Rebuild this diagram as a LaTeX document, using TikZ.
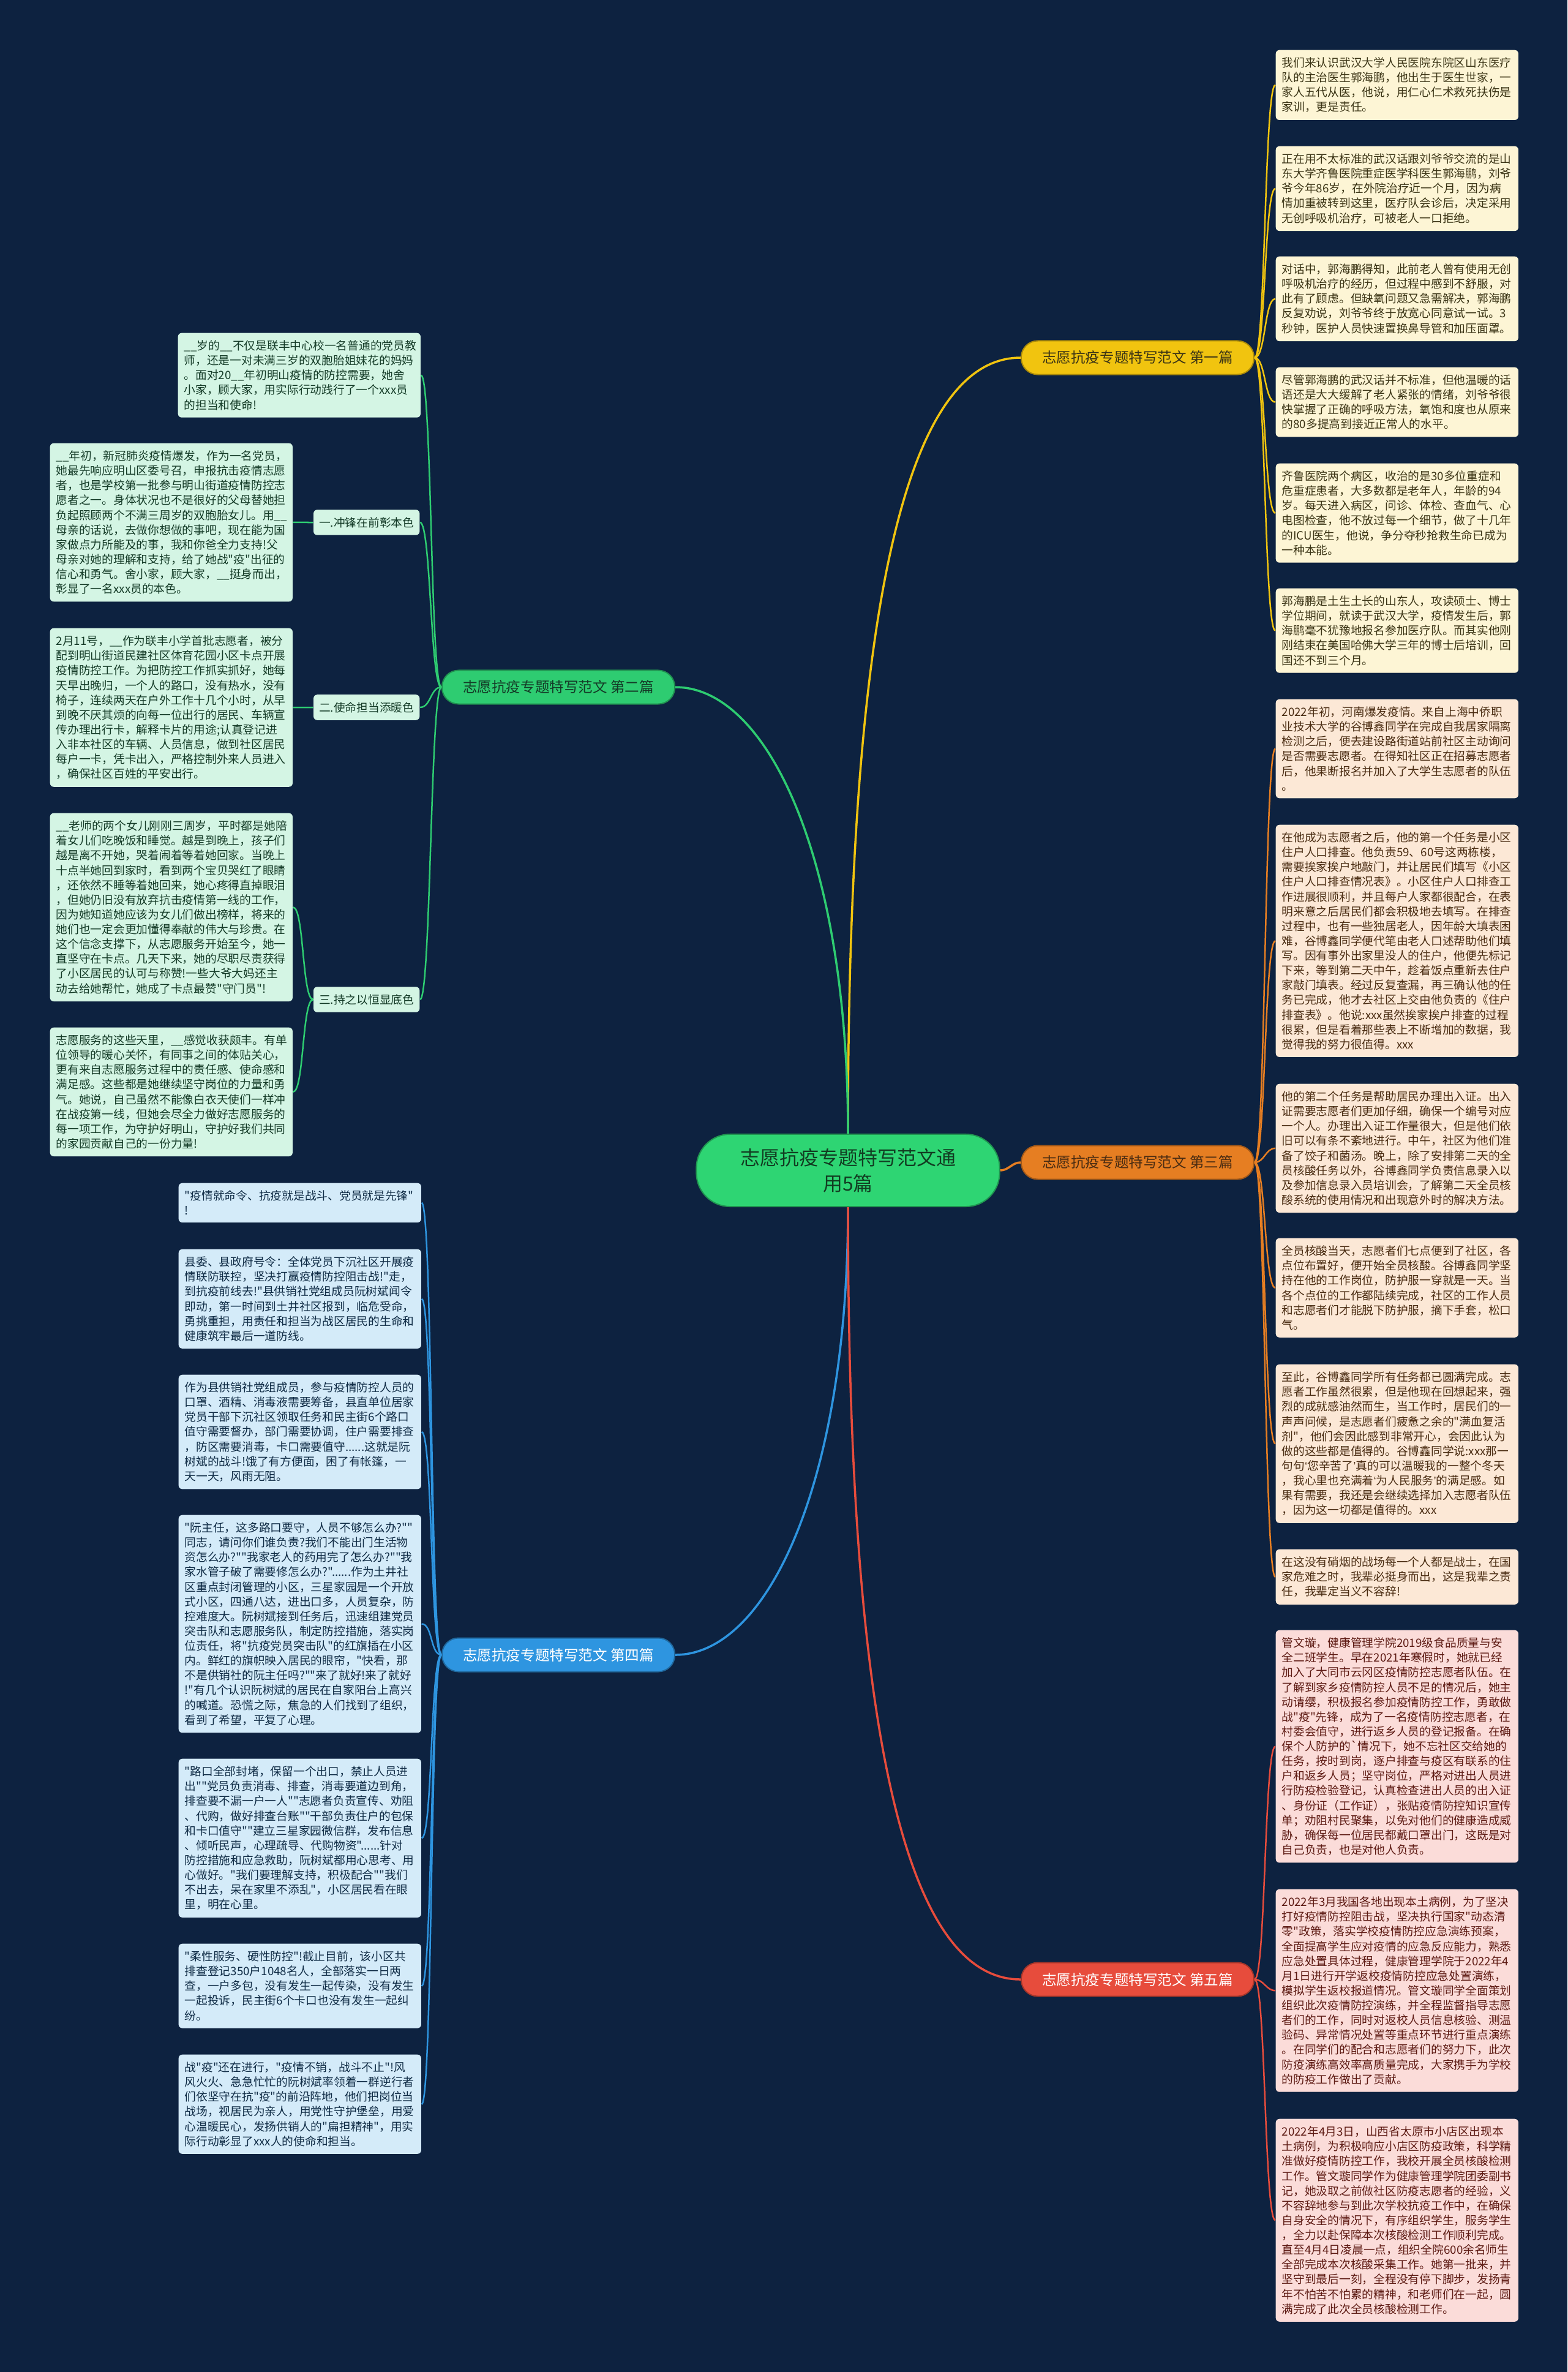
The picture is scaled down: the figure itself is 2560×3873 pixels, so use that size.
\documentclass[tikz,border=0pt]{standalone}
\usepackage{fontspec}
\setmainfont{Noto Sans CJK SC}
\newfontfamily\cjkfont{Noto Sans CJK SC}
\newfontfamily\latinq{Liberation Sans}
\newcommand\narrowq[1]{{\latinq #1}}
\definecolor{navybg}{HTML}{0D2240}
\definecolor{rootgreen}{HTML}{2ED573}
\definecolor{roottext}{HTML}{123D22}
\definecolor{ylw}{HTML}{F1C40F}
\definecolor{org}{HTML}{E67E22}
\definecolor{redc}{HTML}{E74C3C}
\definecolor{grn}{HTML}{2ECC71}
\definecolor{blu}{HTML}{2E95E0}
\definecolor{ylwpale}{HTML}{FDF5D5}
\definecolor{orgpale}{HTML}{FCE8D6}
\definecolor{redpale}{HTML}{FBDCD9}
\definecolor{grnpale}{HTML}{D4F5E4}
\definecolor{blupale}{HTML}{D4EBF9}
\definecolor{ylwtxt}{HTML}{3B3415}
\definecolor{orgtxt}{HTML}{4A2C12}
\definecolor{redtxt}{HTML}{5E1B14}
\definecolor{grntxt}{HTML}{143B27}
\definecolor{blutxt}{HTML}{0F2B45}
\usepackage{tikz}
\newcommand\leaffont{\cjkfont\fontsize{5.33pt}{6.86pt}\selectfont}
\newcommand\topicfont{\cjkfont\fontsize{6.7pt}{8pt}\selectfont}
\newcommand\rootfont{\cjkfont\fontsize{9.1pt}{11.95pt}\selectfont}

\begin{document}
\begin{tikzpicture}[x=0.01cm, y=-0.01cm,
    rootnode/.style={fill=rootgreen, draw=rootgreen!70!black, line width=0.02cm,
      rounded corners=0.55cm, minimum width=4.95cm, minimum height=1.18cm,
      align=center, text=roottext, font=\rootfont},
    topicnode/.style={rounded corners=0.27cm, minimum width=3.8cm, minimum height=0.55cm,
      line width=0.02cm, inner sep=0pt, font=\topicfont},
    subnode/.style={fill=grnpale, text=grntxt, rounded corners=0.06cm, inner xsep=0.09cm,
      inner ysep=0.12cm, font=\leaffont, anchor=east},
    leafnode/.style={rounded corners=0.06cm, inner xsep=0.1cm, inner ysep=0.12cm,
      text width=3.76cm, align=left, font=\leaffont, anchor=north west},
    mainlink/.style={line width=0.035cm},
    leaflink/.style={line width=0.025cm, max distance=0.18cm}]
  % Background
  \useasboundingbox (0,0) rectangle (2560,3873);
  \fill[navybg] (0,0) rectangle (2560,3873);
  % Root
  \node[rootnode] (root) at (1385,1911) {志愿抗疫专题特写范文通\\用5篇};
  % Topics
  \node[topicnode, fill=ylw, draw=ylw!70!black, text=ylwtxt] (t1) at (1858,584) {志愿抗疫专题特写范文 第一篇};
  \node[topicnode, fill=grn, draw=grn!70!black, text=grntxt] (t2) at (912,1122) {志愿抗疫专题特写范文 第二篇};
  \node[topicnode, fill=org, draw=org!70!black, text=orgtxt] (t3) at (1858,1898) {志愿抗疫专题特写范文 第三篇};
  \node[topicnode, fill=blu, draw=blu!70!black, text=white] (t4) at (912,2702) {志愿抗疫专题特写范文 第四篇};
  \node[topicnode, fill=redc, draw=redc!70!black, text=white] (t5) at (1858,3232) {志愿抗疫专题特写范文 第五篇};
  % First
  \begin{scope}[every node/.append style={leafnode, fill=ylwpale, text=ylwtxt}]
    \node (r1a) at (2083,81) {我们来认识武汉大学人民医院东院区山东医疗\\队的主治医生郭海鹏，他出生于医生世家，一\\家人五代从医，他说，用仁心仁术救死扶伤是\\家训，更是责任。};
    \node (r1b) at (2083,238) {正在用不太标准的武汉话跟刘爷爷交流的是山\\东大学齐鲁医院重症医学科医生郭海鹏，刘爷\\爷今年86岁，在外院治疗近一个月，因为病\\情加重被转到这里，医疗队会诊后，决定采用\\无创呼吸机治疗，可被老人一口拒绝。};
    \node (r1c) at (2083,418) {对话中，郭海鹏得知，此前老人曾有使用无创\\呼吸机治疗的经历，但过程中感到不舒服，对\\此有了顾虑。但缺氧问题又急需解决，郭海鹏\\反复劝说，刘爷爷终于放宽心同意试一试。3\\秒钟，医护人员快速置换鼻导管和加压面罩。};
    \node (r1d) at (2083,599) {尽管郭海鹏的武汉话并不标准，但他温暖的话\\语还是大大缓解了老人紧张的情绪，刘爷爷很\\快掌握了正确的呼吸方法，氧饱和度也从原来\\的80多提高到接近正常人的水平。};
    \node (r1e) at (2083,756) {齐鲁医院两个病区，收治的是30多位重症和\\危重症患者，大多数都是老年人，年龄的94\\岁。每天进入病区，问诊、体检、查血气、心\\电图检查，他不放过每一个细节，做了十几年\\的ICU医生，他说，争分夺秒抢救生命已成为\\一种本能。};
    \node (r1f) at (2083,960) {郭海鹏是土生土长的山东人，攻读硕士、博士\\学位期间，就读于武汉大学，疫情发生后，郭\\海鹏毫不犹豫地报名参加医疗队。而其实他刚\\刚结束在美国哈佛大学三年的博士后培训，回\\国还不到三个月。};
  \end{scope}
  % Third
  \begin{scope}[every node/.append style={leafnode, fill=orgpale, text=orgtxt}]
    \node (r3a) at (2083,1141) {2022年初，河南爆发疫情。来自上海中侨职\\业技术大学的谷博鑫同学在完成自我居家隔离\\检测之后，便去建设路街道站前社区主动询问\\是否需要志愿者。在得知社区正在招募志愿者\\后，他果断报名并加入了大学生志愿者的队伍\\。};
    \node (r3b) at (2083,1346) {在他成为志愿者之后，他的第一个任务是小区\\住户人口排查。他负责59、60号这两栋楼，\\需要挨家挨户地敲门，并让居民们填写《小区\\住户人口排查情况表》。小区住户人口排查工\\作进展很顺利，并且每户人家都很配合，在表\\明来意之后居民们都会积极地去填写。在排查\\过程中，也有一些独居老人，因年龄大填表困\\难，谷博鑫同学便代笔由老人口述帮助他们填\\写。因有事外出家里没人的住户，他便先标记\\下来，等到第二天中午，趁着饭点重新去住户\\家敲门填表。经过反复查漏，再三确认他的任\\务已完成，他才去社区上交由他负责的《住户\\排查表》。他说:xxx虽然挨家挨户排查的过程\\很累，但是看着那些表上不断增加的数据，我\\觉得我的努力很值得。xxx};
    \node (r3c) at (2083,1769) {他的第二个任务是帮助居民办理出入证。出入\\证需要志愿者们更加仔细，确保一个编号对应\\一个人。办理出入证工作量很大，但是他们依\\旧可以有条不紊地进行。中午，社区为他们准\\备了饺子和菌汤。晚上，除了安排第二天的全\\员核酸任务以外，谷博鑫同学负责信息录入以\\及参加信息录入员培训会，了解第二天全员核\\酸系统的使用情况和出现意外时的解决方法。};
    \node (r3d) at (2083,2021) {全员核酸当天，志愿者们七点便到了社区，各\\点位布置好，便开始全员核酸。谷博鑫同学坚\\持在他的工作岗位，防护服一穿就是一天。当\\各个点位的工作都陆续完成，社区的工作人员\\和志愿者们才能脱下防护服，摘下手套，松口\\气。};
    \node (r3e) at (2083,2227) {至此，谷博鑫同学所有任务都已圆满完成。志\\愿者工作虽然很累，但是他现在回想起来，强\\烈的成就感油然而生，当工作时，居民们的一\\声声问候，是志愿者们疲惫之余的"满血复活\\剂"，他们会因此感到非常开心，会因此认为\\做的这些都是值得的。谷博鑫同学说:xxx那一\\句句\narrowq{‘}您辛苦了\narrowq{’}真的可以温暖我的一整个冬天\\，我心里也充满着\narrowq{‘}为人民服务\narrowq{’}的满足感。如\\果有需要，我还是会继续选择加入志愿者队伍\\，因为这一切都是值得的。xxx};
    \node (r3f) at (2083,2529) {在这没有硝烟的战场每一个人都是战士，在国\\家危难之时，我辈必挺身而出，这是我辈之责\\任，我辈定当义不容辞!};
  \end{scope}
  % Fifth
  \begin{scope}[every node/.append style={leafnode, fill=redpale, text=redtxt}]
    \node (r5a) at (2083,2661) {管文璇，健康管理学院2019级食品质量与安\\全二班学生。早在2021年寒假时，她就已经\\加入了大同市云冈区疫情防控志愿者队伍。在\\了解到家乡疫情防控人员不足的情况后，她主\\动请缨，积极报名参加疫情防控工作，勇敢做\\战"疫"先锋，成为了一名疫情防控志愿者，在\\村委会值守，进行返乡人员的登记报备。在确\\保个人防护的`情况下，她不忘社区交给她的\\任务，按时到岗，逐户排查与疫区有联系的住\\户和返乡人员；坚守岗位，严格对进出人员进\\行防疫检验登记，认真检查进出人员的出入证\\、身份证（工作证），张贴疫情防控知识宣传\\单；劝阻村民聚集，以免对他们的健康造成威\\胁，确保每一位居民都戴口罩出门，这既是对\\自己负责，也是对他人负责。};
    \node (r5b) at (2083,3084) {2022年3月我国各地出现本土病例，为了坚决\\打好疫情防控阻击战，坚决执行国家"动态清\\零"政策，落实学校疫情防控应急演练预案，\\全面提高学生应对疫情的应急反应能力，熟悉\\应急处置具体过程，健康管理学院于2022年4\\月1日进行开学返校疫情防控应急处置演练，\\模拟学生返校报道情况。管文璇同学全面策划\\组织此次疫情防控演练，并全程监督指导志愿\\者们的工作，同时对返校人员信息核验、测温\\验码、异常情况处置等重点环节进行重点演练\\。在同学们的配合和志愿者们的努力下，此次\\防疫演练高效率高质量完成，大家携手为学校\\的防疫工作做出了贡献。};
    \node (r5c) at (2083,3459) {2022年4月3日，山西省太原市小店区出现本\\土病例，为积极响应小店区防疫政策，科学精\\准做好疫情防控工作，我校开展全员核酸检测\\工作。管文璇同学作为健康管理学院团委副书\\记，她汲取之前做社区防疫志愿者的经验，义\\不容辞地参与到此次学校抗疫工作中，在确保\\自身安全的情况下，有序组织学生，服务学生\\，全力以赴保障本次核酸检测工作顺利完成。\\直至4月4日凌晨一点，组织全院600余名师生\\全部完成本次核酸采集工作。她第一批来，并\\坚守到最后一刻，全程没有停下脚步，发扬青\\年不怕苦不怕累的精神，和老师们在一起，圆\\满完成了此次全员核酸检测工作。};
  \end{scope}
  % Second
  \node[subnode] (s1) at (686,853) {一.冲锋在前彰本色};
  \node[subnode] (s2) at (686,1155) {二.使命担当添暖色};
  \node[subnode] (s3) at (686,1632) {三.持之以恒显底色};
  \begin{scope}[every node/.append style={leafnode, fill=grnpale, text=grntxt}]
    \node (l0) at (290,543) {\_\_岁的\_\_不仅是联丰中心校一名普通的党员教\\师，还是一对未满三岁的双胞胎姐妹花的妈妈\\。面对20\_\_年初明山疫情的防控需要，她舍\\小家，顾大家，用实际行动践行了一个xxx员\\的担当和使命!};
    \node (l1) at (81,723) {\_\_年初，新冠肺炎疫情爆发，作为一名党员，\\她最先响应明山区委号召，申报抗击疫情志愿\\者，也是学校第一批参与明山街道疫情防控志\\愿者之一。身体状况也不是很好的父母替她担\\负起照顾两个不满三周岁的双胞胎女儿。用\_\_\\母亲的话说，去做你想做的事吧，现在能为国\\家做点力所能及的事，我和你爸全力支持!父\\母亲对她的理解和支持，给了她战"疫"出征的\\信心和勇气。舍小家，顾大家，\_\_挺身而出，\\彰显了一名xxx员的本色。};
    \node (l2) at (81,1025) {2月11号，\_\_作为联丰小学首批志愿者，被分\\配到明山街道民建社区体育花园小区卡点开展\\疫情防控工作。为把防控工作抓实抓好，她每\\天早出晚归，一个人的路口，没有热水，没有\\椅子，连续两天在户外工作十几个小时，从早\\到晚不厌其烦的向每一位出行的居民、车辆宣\\传办理出行卡，解释卡片的用途;认真登记进\\入非本社区的车辆、人员信息，做到社区居民\\每户一卡，凭卡出入，严格控制外来人员进入\\，确保社区百姓的平安出行。};
    \node (l3a) at (81,1327) {\_\_老师的两个女儿刚刚三周岁，平时都是她陪\\着女儿们吃晚饭和睡觉。越是到晚上，孩子们\\越是离不开她，哭着闹着等着她回家。当晚上\\十点半她回到家时，看到两个宝贝哭红了眼睛\\，还依然不睡等着她回来，她心疼得直掉眼泪\\，但她仍旧没有放弃抗击疫情第一线的工作，\\因为她知道她应该为女儿们做出榜样，将来的\\她们也一定会更加懂得奉献的伟大与珍贵。在\\这个信念支撑下，从志愿服务开始至今，她一\\直坚守在卡点。几天下来，她的尽职尽责获得\\了小区居民的认可与称赞!一些大爷大妈还主\\动去给她帮忙，她成了卡点最赞"守门员"!};
    \node (l3b) at (81,1677) {志愿服务的这些天里，\_\_感觉收获颇丰。有单\\位领导的暖心关怀，有同事之间的体贴关心，\\更有来自志愿服务过程中的责任感、使命感和\\满足感。这些都是她继续坚守岗位的力量和勇\\气。她说，自己虽然不能像白衣天使们一样冲\\在战疫第一线，但她会尽全力做好志愿服务的\\每一项工作，为守护好明山，守护好我们共同\\的家园贡献自己的一份力量!};
  \end{scope}
  % Fourth
  \begin{scope}[every node/.append style={leafnode, fill=blupale, text=blutxt}]
    \node (b1) at (291,1931) {"疫情就命令、抗疫就是战斗、党员就是先锋"\\!};
    \node (b2) at (291,2039) {县委、县政府号令：全体党员下沉社区开展疫\\情联防联控，坚决打赢疫情防控阻击战!"走，\\到抗疫前线去!"县供销社党组成员阮树斌闻令\\即动，第一时间到土井社区报到，临危受命，\\勇挑重担，用责任和担当为战区居民的生命和\\健康筑牢最后一道防线。};
    \node (b3) at (291,2244) {作为县供销社党组成员，参与疫情防控人员的\\口罩、酒精、消毒液需要筹备，县直单位居家\\党员干部下沉社区领取任务和民主街6个路口\\值守需要督办，部门需要协调，住户需要排查\\，防区需要消毒，卡口需要值守......这就是阮\\树斌的战斗!饿了有方便面，困了有帐篷，一\\天一天，风雨无阻。};
    \node (b4) at (291,2473) {"阮主任，这多路口要守，人员不够怎么办?""\\同志，请问你们谁负责?我们不能出门生活物\\资怎么办?""我家老人的药用完了怎么办?""我\\家水管子破了需要修怎么办?"......作为土井社\\区重点封闭管理的小区，三星家园是一个开放\\式小区，四通八达，进出口多，人员复杂，防\\控难度大。阮树斌接到任务后，迅速组建党员\\突击队和志愿服务队，制定防控措施，落实岗\\位责任，将"抗疫党员突击队"的红旗插在小区\\内。鲜红的旗帜映入居民的眼帘，"快看，那\\不是供销社的阮主任吗?""来了就好!来了就好\\!"有几个认识阮树斌的居民在自家阳台上高兴\\的喊道。恐慌之际，焦急的人们找到了组织，\\看到了希望，平复了心理。};
    \node (b5) at (291,2871) {"路口全部封堵，保留一个出口，禁止人员进\\出""党员负责消毒、排查，消毒要道边到角，\\排查要不漏一户一人""志愿者负责宣传、劝阻\\、代购，做好排查台账""干部负责住户的包保\\和卡口值守""建立三星家园微信群，发布信息\\、倾听民声，心理疏导、代购物资"......针对\\防控措施和应急救助，阮树斌都用心思考、用\\心做好。"我们要理解支持，积极配合""我们\\不出去，呆在家里不添乱"，小区居民看在眼\\里，明在心里。};
    \node (b6) at (291,3173) {"柔性服务、硬性防控"!截止目前，该小区共\\排查登记350户1048名人，全部落实一日两\\查，一户多包，没有发生一起传染，没有发生\\一起投诉，民主街6个卡口也没有发生一起纠\\纷。};
    \node (b7) at (291,3354) {战"疫"还在进行，"疫情不销，战斗不止"!风\\风火火、急急忙忙的阮树斌率领着一群逆行者\\们依坚守在抗"疫"的前沿阵地，他们把岗位当\\战场，视居民为亲人，用党性守护堡垒，用爱\\心温暖民心，发扬供销人的"扁担精神"，用实\\际行动彰显了xxx人的使命和担当。};
  \end{scope}
  % Links from root
  \draw[mainlink, ylw] (root.north) to[out=90, in=180, out distance=8cm, in distance=2cm] (t1.west);
  \draw[mainlink, grn] (root.north) to[out=90, in=0, out distance=4.5cm, in distance=1.5cm] (t2.east);
  \draw[mainlink, org] (root.east) to[out=0, in=180] (t3.west);
  \draw[mainlink, blu] (root.south) to[out=-90, in=0, out distance=4.5cm, in distance=1.5cm] (t4.east);
  \draw[mainlink, redc] (root.south) to[out=-90, in=180, out distance=8cm, in distance=2cm] (t5.west);
  % Links to leaves
  \foreach \k in {r1a,r1b,r1c,r1d,r1e,r1f}
    \draw[leaflink, ylw] (t1.east) to[out=0, in=180] (\k.west);
  \foreach \k in {r3a,r3b,r3c,r3d,r3e,r3f}
    \draw[leaflink, org] (t3.east) to[out=0, in=180] (\k.west);
  \foreach \k in {r5a,r5b,r5c}
    \draw[leaflink, redc] (t5.east) to[out=0, in=180] (\k.west);
  \foreach \k in {l0,s1,s2,s3}
    \draw[leaflink, grn] (t2.west) to[out=180, in=0] (\k.east);
  \foreach \a/\b in {s1/l1,s2/l2,s3/l3a,s3/l3b}
    \draw[leaflink, grn] (\a.west) to[out=180, in=0] (\b.east);
  \foreach \k in {b1,b2,b3,b4,b5,b6,b7}
    \draw[leaflink, blu] (t4.west) to[out=180, in=0] (\k.east);
\end{tikzpicture}
\end{document}
